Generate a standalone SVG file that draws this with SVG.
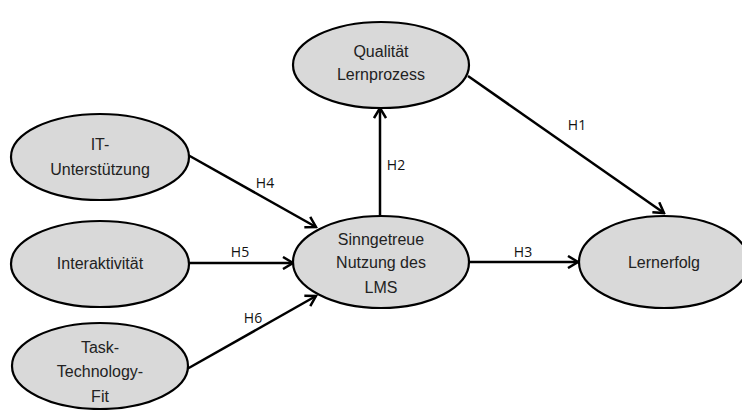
<svg xmlns="http://www.w3.org/2000/svg" width="742" height="410" viewBox="0 0 742 410">
<style>
.node ellipse{fill:#d9d9d9;stroke:#000;stroke-width:2.2}
.node text{font-family:"Liberation Sans",Arial,sans-serif;font-size:16px;fill:#222;text-anchor:middle}
.edge line{stroke:#000;stroke-width:2.5;marker-end:url(#arr)}
.lbl{font-family:"Open Sans","DejaVu Sans",sans-serif;font-size:14px;fill:#111;text-anchor:middle}
</style>
<defs>
<marker id="arr" markerUnits="userSpaceOnUse" viewBox="0 0 14 14" refX="12" refY="7" markerWidth="14" markerHeight="14" orient="auto">
<path d="M2,1 L12,7 L2,13" fill="none" stroke="#000" stroke-width="2.5" stroke-linejoin="miter"/>
</marker>
</defs>
<rect width="742" height="410" fill="#fff"/>
<g id="connectors" class="edge">
<line x1="468" y1="76" x2="664" y2="213"/>
<line x1="380" y1="216" x2="380" y2="108"/>
<line x1="469" y1="262" x2="578" y2="262"/>
<line x1="188" y1="155" x2="316" y2="227"/>
<line x1="189" y1="263" x2="293" y2="263"/>
<line x1="187" y1="369" x2="316" y2="296"/>
</g>
<g id="labels">
<text class="lbl" x="577" y="130">H1</text>
<text class="lbl" x="396" y="170">H2</text>
<text class="lbl" x="523" y="257">H3</text>
<text class="lbl" x="265" y="188">H4</text>
<text class="lbl" x="240" y="257">H5</text>
<text class="lbl" x="253" y="323">H6</text>
</g>
<g id="n-qualitaet" class="node">
<ellipse cx="381" cy="65" rx="88" ry="43"/>
<text x="381" y="57">Qualität</text>
<text x="381" y="80">Lernprozess</text>
</g>
<g id="n-it" class="node">
<ellipse cx="100" cy="157" rx="89" ry="43"/>
<text x="100" y="150">IT-</text>
<text x="100" y="175">Unterstützung</text>
</g>
<g id="n-interaktivitaet" class="node">
<ellipse cx="100" cy="264" rx="89" ry="43"/>
<text x="100" y="269">Interaktivität</text>
</g>
<g id="n-ttf" class="node">
<ellipse cx="100" cy="366" rx="88" ry="43"/>
<text x="100" y="353">Task-</text>
<text x="100" y="377">Technology-</text>
<text x="100" y="402">Fit</text>
</g>
<g id="n-sinngetreue" class="node">
<ellipse cx="381" cy="262" rx="88" ry="46"/>
<text x="381" y="245">Sinngetreue</text>
<text x="381" y="268">Nutzung des</text>
<text x="381" y="293">LMS</text>
</g>
<g id="n-lernerfolg" class="node">
<ellipse cx="664" cy="262" rx="85" ry="46"/>
<text x="664" y="268">Lernerfolg</text>
</g>
</svg>
